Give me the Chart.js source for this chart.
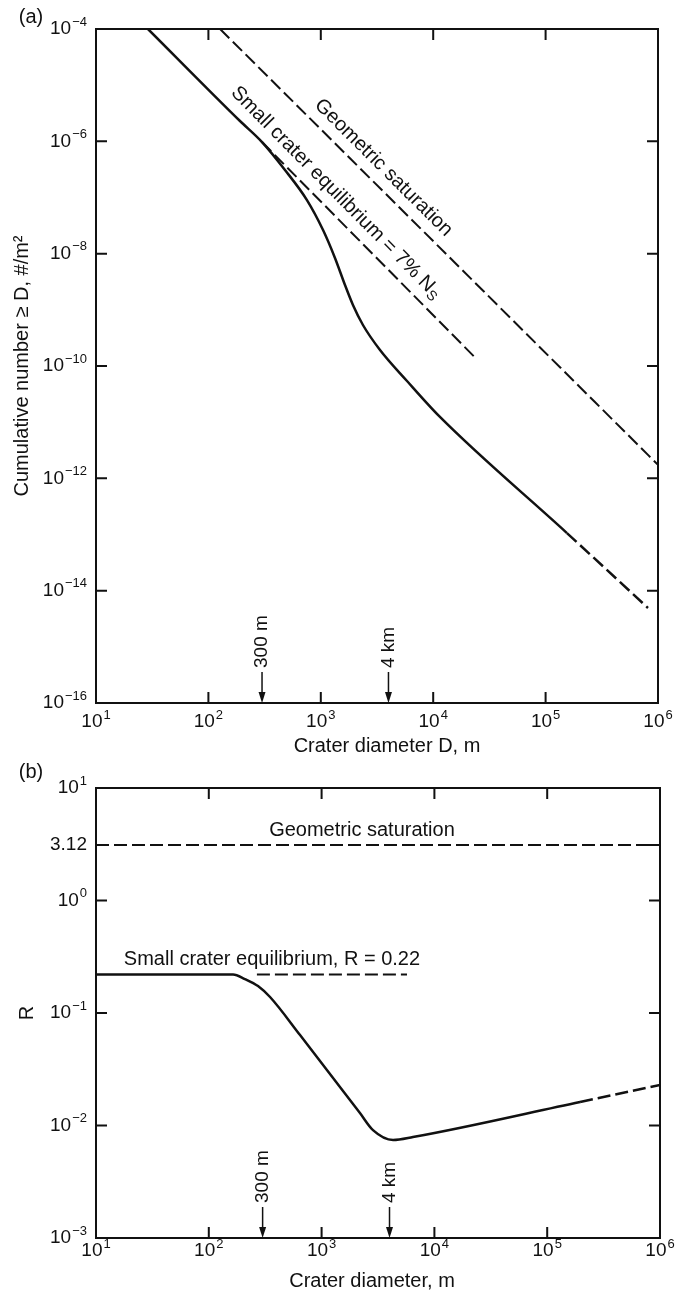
<!DOCTYPE html>
<html>
<head>
<meta charset="utf-8">
<script src="https://cdn.jsdelivr.net/npm/chart.js@4.4.0/dist/chart.umd.min.js"></script>
<style>
  html, body { margin: 0; padding: 0; background: #fff; }
  #wrapA { position: absolute; left: 0; top: 0; width: 675px; height: 760px; }
  #wrapB { position: absolute; left: 0; top: 760px; width: 675px; height: 534px; }
</style>
</head>
<body>
<div id="wrapA"><canvas id="chartA" width="675" height="760"></canvas></div>
<div id="wrapB"><canvas id="chartB" width="675" height="534"></canvas></div>
<script>
// shared x axis (crater diameter, m)
const xTicks = [1e1, 1e2, 1e3, 1e4, 1e5, 1e6];

// panel (a): cumulative number >= D, #/m^2
const yTicksA = [1e-4, 1e-6, 1e-8, 1e-10, 1e-12, 1e-14, 1e-16];
const aCurveD = [29, 191, 300, 480, 753, 1047, 1337, 1641, 1932, 2371, 3363, 5848, 11482, 154900, 814700];
const aCurveN = [1e-4, 2.3e-6, 9.7e-7, 3.09e-7, 9.0e-8, 2.64e-8, 8.4e-9, 2.77e-9, 1.22e-9, 5.37e-10, 1.93e-10, 5.41e-11, 1.24e-11, 1.06e-13, 4.92e-15];
const aSolidPoints = 14; // after this the curve is dashed
const aSatD = [127, 1e6];
const aSatN = [1e-4, 1.74e-12];
const aEqD = [300, 24400];
const aEqN = [9.7e-7, 1.32e-10];

// panel (b): R
const yTicksB = [10, 3.12, 1, 0.1, 0.01, 0.001];
const bCurveD = [10, 164, 209, 273, 349, 644, 2188, 2855, 4300, 6457, 195600, 1e6];
const bCurveR = [0.22, 0.22, 0.2004, 0.1738, 0.1387, 0.0637, 0.0129, 0.0091, 0.00743, 0.0079, 0.0162, 0.0229];
const bSolidPoints = 11;
const bSatD = [10, 1e6];
const bSatR = [3.12, 3.12];
const bEqD = [267, 5715];
const bEqR = [0.22, 0.22];

// marked diameters
const markD = [300, 4000];
const markText = ['300 m', '4 km'];

const FAMILY = "'Liberation Sans', Arial, sans-serif";
const INK = '#111';

const toXY = (xs, ys) => xs.map((x, i) => ({ x, y: ys[i] }));

function powLabel(v) {
  const e = Math.log10(v);
  if (Math.abs(e - Math.round(e)) < 1e-9) {
    const n = Math.round(e);
    return { base: '10', exp: n < 0 ? '\u2212' + (-n) : String(n) };
  }
  return { base: String(v), exp: '' };
}

function drawPow(ctx, lab, x, y, align) {
  ctx.font = '19px ' + FAMILY;
  const wb = ctx.measureText(lab.base).width;
  ctx.font = '13px ' + FAMILY;
  const we = lab.exp ? ctx.measureText(lab.exp).width + 1 : 0;
  let x0 = x;
  if (align === 'right') x0 = x - wb - we;
  if (align === 'center') x0 = x - (wb + we) / 2;
  ctx.textAlign = 'left';
  ctx.textBaseline = 'middle';
  ctx.font = '19px ' + FAMILY;
  ctx.fillText(lab.base, x0, y);
  if (lab.exp) {
    ctx.font = '13px ' + FAMILY;
    ctx.fillText(lab.exp, x0 + wb + 1, y - 7);
  }
}

// text made of parts (for subscripts), centred on (0,0)
function drawParts(ctx, parts) {
  let total = 0;
  parts.forEach(p => { ctx.font = p.size + 'px ' + FAMILY; p.w = ctx.measureText(p.t).width; total += p.w; });
  let x = -total / 2;
  ctx.textAlign = 'left';
  ctx.textBaseline = 'middle';
  parts.forEach(p => {
    ctx.font = p.size + 'px ' + FAMILY;
    ctx.fillText(p.t, x, p.dy || 0);
    x += p.w;
  });
}

function drawAlong(chart, lineD, lineV, anchorD, offset, parts) {
  const ctx = chart.ctx, xs = chart.scales.x, ys = chart.scales.y;
  const p1 = { x: xs.getPixelForValue(lineD[0]), y: ys.getPixelForValue(lineV[0]) };
  const p2 = { x: xs.getPixelForValue(lineD[1]), y: ys.getPixelForValue(lineV[1]) };
  const a = Math.atan2(p2.y - p1.y, p2.x - p1.x);
  const ax = xs.getPixelForValue(anchorD);
  const ay = p1.y + (ax - p1.x) * (p2.y - p1.y) / (p2.x - p1.x);
  ctx.save();
  ctx.translate(ax + offset * Math.sin(a), ay - offset * Math.cos(a));
  ctx.rotate(a);
  drawParts(ctx, parts);
  ctx.restore();
}

function drawMarker(chart, d, text) {
  const ctx = chart.ctx, x = chart.scales.x.getPixelForValue(d);
  const bottom = chart.chartArea.bottom;
  const top = bottom - 31;
  ctx.save();
  ctx.strokeStyle = INK;
  ctx.fillStyle = INK;
  ctx.lineWidth = 1.5;
  ctx.beginPath();
  ctx.moveTo(x, top);
  ctx.lineTo(x, bottom - 10);
  ctx.stroke();
  ctx.beginPath();
  ctx.moveTo(x - 3.5, bottom - 11);
  ctx.lineTo(x + 3.5, bottom - 11);
  ctx.lineTo(x, bottom);
  ctx.closePath();
  ctx.fill();
  ctx.translate(x, top - 4);
  ctx.rotate(-Math.PI / 2);
  ctx.font = '19px ' + FAMILY;
  ctx.textAlign = 'left';
  ctx.textBaseline = 'middle';
  ctx.fillText(text, 0, 0);
  ctx.restore();
}

function framePlugin(cfg) {
  return {
    id: 'frame',
    afterDraw(chart) {
      const ctx = chart.ctx, area = chart.chartArea;
      const xs = chart.scales.x, ys = chart.scales.y;
      ctx.save();
      ctx.strokeStyle = INK;
      ctx.fillStyle = INK;
      ctx.lineWidth = 2;
      ctx.strokeRect(area.left, area.top, area.right - area.left, area.bottom - area.top);
      const tl = 11;
      ctx.beginPath();
      xTicks.forEach(v => {
        const x = xs.getPixelForValue(v);
        ctx.moveTo(x, area.bottom); ctx.lineTo(x, area.bottom - tl);
        ctx.moveTo(x, area.top); ctx.lineTo(x, area.top + tl);
      });
      cfg.yTicks.forEach(v => {
        const y = ys.getPixelForValue(v);
        ctx.moveTo(area.left, y); ctx.lineTo(area.left + tl, y);
        ctx.moveTo(area.right, y); ctx.lineTo(area.right - tl, y);
      });
      ctx.stroke();

      xTicks.forEach(v => drawPow(ctx, powLabel(v), xs.getPixelForValue(v), area.bottom + cfg.xLabelGap, 'center'));
      cfg.yTicks.forEach(v => drawPow(ctx, powLabel(v), area.left - 9, ys.getPixelForValue(v), 'right'));

      ctx.font = '20px ' + FAMILY;
      ctx.textAlign = 'center';
      ctx.textBaseline = 'middle';
      ctx.fillText(cfg.xTitle, cfg.xTitlePos[0], cfg.xTitlePos[1]);
      ctx.fillText(cfg.panel, 31, cfg.panelY);
      ctx.save();
      ctx.translate(cfg.yTitlePos[0], (area.top + area.bottom) / 2);
      ctx.rotate(-Math.PI / 2);
      ctx.fillText(cfg.yTitle, 0, 0);
      ctx.restore();
      ctx.restore();

      markD.forEach((d, i) => drawMarker(chart, d, markText[i]));
      if (cfg.extra) cfg.extra(chart);
    }
  };
}

function lineSet(data, width, dash, solidPoints) {
  const ds = {
    data, borderColor: INK, borderWidth: width, pointRadius: 0,
    fill: false, cubicInterpolationMode: 'monotone'
  };
  if (dash) ds.borderDash = dash;
  if (solidPoints) ds.segment = { borderDash: c => c.p0DataIndex >= solidPoints - 1 ? [13, 5] : undefined };
  return ds;
}

new Chart(document.getElementById('chartA'), {
  type: 'line',
  data: {
    datasets: [
      lineSet(toXY(aCurveD, aCurveN), 2.5, null, aSolidPoints),
      lineSet(toXY(aSatD, aSatN), 2, [13, 5]),
      lineSet(toXY(aEqD, aEqN), 2, [13, 5])
    ]
  },
  options: {
    responsive: false,
    animation: false,
    layout: { padding: { left: 96, top: 29, right: 17, bottom: 57 } },
    plugins: { legend: { display: false }, tooltip: { enabled: false } },
    scales: {
      x: { type: 'logarithmic', min: 10, max: 1e6, display: false },
      y: { type: 'logarithmic', min: 1e-16, max: 1e-4, display: false }
    }
  },
  plugins: [framePlugin({
    yTicks: yTicksA,
    xLabelGap: 19,
    xTitle: 'Crater diameter D, m',
    xTitlePos: [387, 746],
    yTitle: 'Cumulative number \u2265 D, #/m\u00b2',
    yTitlePos: [22],
    panel: '(a)',
    panelY: 17,
    extra(chart) {
      const ctx = chart.ctx;
      ctx.save();
      ctx.fillStyle = INK;
      drawAlong(chart, aEqD, aEqN, 1067, 17, [
        { t: 'Small crater equilibrium = 7% N', size: 20 },
        { t: 'S', size: 14, dy: 5 }
      ]);
      drawAlong(chart, aSatD, aSatN, 2825, 17, [{ t: 'Geometric saturation', size: 20 }]);
      ctx.restore();
    }
  })]
});

new Chart(document.getElementById('chartB'), {
  type: 'line',
  data: {
    datasets: [
      lineSet(toXY(bCurveD, bCurveR), 2.5, null, bSolidPoints),
      lineSet(toXY(bSatD, bSatR), 2, [13, 5]),
      lineSet(toXY(bEqD, bEqR), 2, [13, 5])
    ]
  },
  options: {
    responsive: false,
    animation: false,
    layout: { padding: { left: 96, top: 28, right: 15, bottom: 56 } },
    plugins: { legend: { display: false }, tooltip: { enabled: false } },
    scales: {
      x: { type: 'logarithmic', min: 10, max: 1e6, display: false },
      y: { type: 'logarithmic', min: 0.001, max: 10, display: false }
    }
  },
  plugins: [framePlugin({
    yTicks: yTicksB,
    xLabelGap: 13,
    xTitle: 'Crater diameter, m',
    xTitlePos: [372, 521],
    yTitle: 'R',
    yTitlePos: [27],
    panel: '(b)',
    panelY: 12,
    extra(chart) {
      const ctx = chart.ctx, xs = chart.scales.x, ys = chart.scales.y;
      ctx.save();
      ctx.fillStyle = INK;
      ctx.font = '20px ' + FAMILY;
      ctx.textAlign = 'center';
      ctx.textBaseline = 'middle';
      ctx.fillText('Geometric saturation', xs.getPixelForValue(2280), ys.getPixelForValue(3.12) - 14);
      ctx.fillText('Small crater equilibrium, R = 0.22', xs.getPixelForValue(363), ys.getPixelForValue(0.22) - 15);
      ctx.restore();
    }
  })]
});
</script>
</body>
</html>
